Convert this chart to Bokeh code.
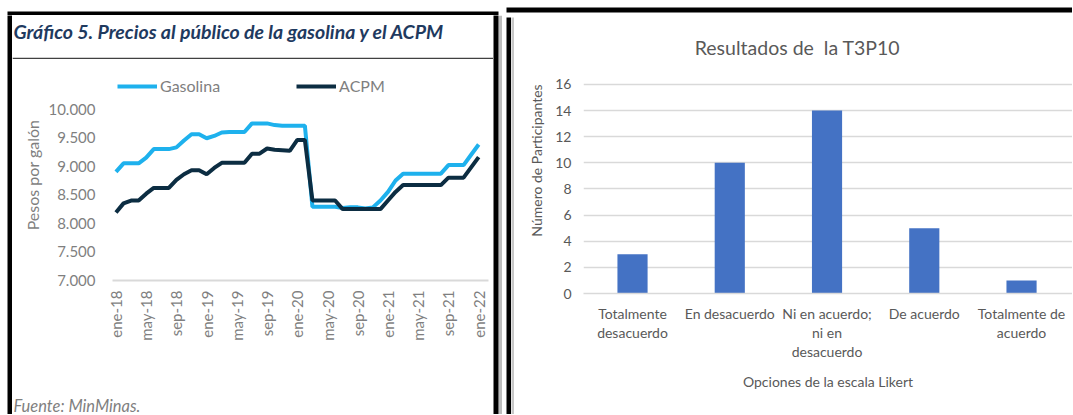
import numpy as np
from bokeh.plotting import figure
from bokeh.layouts import row, column
from bokeh.models import (ColumnDataSource, Range1d, FixedTicker, Legend, LegendItem, Label)
from bokeh.embed import file_html
from bokeh.resources import INLINE

# ---------------- Left chart data (monthly, ene-18 .. ene-22) ----------------
month_index = list(range(49))
gasolina = [8900, 9050, 9050, 9050, 9150, 9300, 9300, 9300, 9330, 9450,
            9560, 9560, 9490, 9530, 9590, 9600, 9600, 9600, 9750, 9750,
            9750, 9720, 9710, 9710, 9710, 9710, 8290, 8290, 8290, 8290,
            8270, 8280, 8280, 8260, 8280, 8400, 8550, 8750, 8870, 8870,
            8870, 8870, 8870, 8870, 9020, 9020, 9020, 9200, 9380]
acpm = [8190, 8350, 8400, 8400, 8520, 8620, 8620, 8620, 8760, 8860,
        8930, 8930, 8860, 8970, 9060, 9060, 9060, 9060, 9220, 9220,
        9310, 9290, 9280, 9270, 9460, 9460, 8400, 8400, 8400, 8400,
        8250, 8250, 8250, 8250, 8250, 8250, 8400, 8550, 8670, 8670,
        8670, 8670, 8670, 8670, 8800, 8800, 8800, 8980, 9160]
x_ticks = [0, 4, 8, 12, 16, 20, 24, 28, 32, 36, 40, 44, 48]
x_tick_labels = ["ene-18", "may-18", "sep-18", "ene-19", "may-19", "sep-19", "ene-20",
                 "may-20", "sep-20", "ene-21", "may-21", "sep-21", "ene-22"]
y_ticks = [7000, 7500, 8000, 8500, 9000, 9500, 10000]
y_tick_labels = ["7.000", "7.500", "8.000", "8.500", "9.000", "9.500", "10.000"]
titulo_izq = "Gráfico 5. Precios al público de la gasolina y el ACPM"
fuente = "Fuente: MinMinas."

# ---------------- Right chart data ----------------
categorias = ["Totalmente\ndesacuerdo", "En desacuerdo", "Ni en acuerdo;\nni en\ndesacuerdo",
              "De acuerdo", "Totalmente de\nacuerdo"]
participantes = [3, 10, 14, 5, 1]
y2_ticks = [0, 2, 4, 6, 8, 10, 12, 14, 16]
titulo_der = "Resultados de \u00a0la T3P10"

FONT = "Lato"


def base_fig(w, h, **kw):
    return figure(width=w, height=h, output_backend="svg", toolbar_location=None,
                  frame_align=False, **kw)


def block(w, h, fill, edge="white", top=0, bottom=0, left=0, right=0):
    b = base_fig(w, h, x_axis_location=None, y_axis_location=None,
                 min_border_top=top, min_border_bottom=bottom,
                 min_border_left=left, min_border_right=right)
    b.background_fill_color = fill
    b.border_fill_color = edge
    b.outline_line_color = None
    b.grid.visible = False
    return b


# ================= Left panel =================
# title strip with rule underneath
t1 = block(481, 44, "white", edge="#404040", bottom=2)
t1.add_layout(Label(x=1, y=16, x_units="canvas", y_units="canvas", text=titulo_izq,
                    text_font=FONT, text_font_size="19.5px", text_font_style="bold italic",
                    text_color="#1f3a5f", text_align="left", text_baseline="middle"))

# chart
p1 = base_fig(481, 333, x_range=Range1d(-0.46, 49.3), y_range=Range1d(7000, 10693),
              min_border_left=100, min_border_right=5, min_border_top=10,
              min_border_bottom=112)
p1.outline_line_color = None
p1.grid.visible = False

src1 = ColumnDataSource(dict(x=month_index, gasolina=gasolina, acpm=acpm))
r_g = p1.line("x", "gasolina", source=src1, line_color="#1eb1ed", line_width=4)
r_a = p1.line("x", "acpm", source=src1, line_color="#0c2d42", line_width=4)

legend = Legend(items=[LegendItem(label="Gasolina", renderers=[r_g]),
                       LegendItem(label="ACPM", renderers=[r_a])],
                orientation="horizontal", location=(5, 185),
                glyph_width=40, glyph_height=16, label_standoff=3, spacing=76,
                padding=0, margin=0, border_line_color=None,
                background_fill_alpha=0,
                label_text_font=FONT, label_text_font_size="16px",
                label_text_color="#7f7f7f")
p1.add_layout(legend)

xa = p1.xaxis[0]
xa.ticker = FixedTicker(ticks=x_ticks)
xa.major_label_overrides = dict(zip(x_ticks, x_tick_labels))
xa.major_label_orientation = np.pi / 2
xa.major_label_standoff = 10
xa.major_tick_line_color = None
xa.major_tick_out = 0
xa.major_tick_in = 0
xa.minor_tick_line_color = None
xa.axis_line_color = "#d9d9d9"
xa.axis_line_width = 2
xa.major_label_text_font = FONT
xa.major_label_text_font_size = "15px"
xa.major_label_text_color = "#7f7f7f"

ya = p1.yaxis[0]
ya.ticker = FixedTicker(ticks=y_ticks)
ya.major_label_overrides = dict(zip(y_ticks, y_tick_labels))
ya.major_label_standoff = 17
ya.major_tick_line_color = None
ya.major_tick_out = 0
ya.major_tick_in = 0
ya.minor_tick_line_color = None
ya.axis_line_color = None
ya.major_label_text_font = FONT
ya.major_label_text_font_size = "15px"
ya.major_label_text_color = "#7f7f7f"
ya.axis_label = "Pesos por galón"
ya.axis_label_text_font = FONT
ya.axis_label_text_font_size = "16px"
ya.axis_label_text_font_style = "normal"
ya.axis_label_text_color = "#7f7f7f"
ya.axis_label_standoff = 3

# footnote strip
f1 = block(481, 22, "white")
f1.add_layout(Label(x=1, y=13, x_units="canvas", y_units="canvas", text=fuente,
                    text_font=FONT, text_font_size="16.5px", text_font_style="italic",
                    text_color="#7f7f7f", text_align="left", text_baseline="middle"))

left_panel = column(
    block(502, 15, "black", top=11, left=7, right=4),
    row(block(12, 399, "black", left=7),
        column(t1, p1, f1, spacing=0),
        block(9, 399, "black", edge="#bdbdbd", right=4),
        spacing=0),
    spacing=0)

# ================= Right panel =================
pos = list(range(len(categorias)))
p2 = base_fig(558, 397, x_range=Range1d(-0.504, 4.524), y_range=Range1d(0, 20.36),
              min_border_left=69, min_border_right=0, min_border_top=10,
              min_border_bottom=121)
p2.outline_line_color = None
p2.xgrid.visible = False
p2.ygrid.ticker = FixedTicker(ticks=y2_ticks)
p2.ygrid.grid_line_color = "#d9d9d9"
p2.ygrid.grid_line_width = 1.3

src2 = ColumnDataSource(dict(x=pos, y=participantes, cat=categorias))
p2.vbar(x="x", top="y", source=src2, width=0.31, fill_color="#4472c4", line_color=None)

xb = p2.xaxis[0]
xb.ticker = FixedTicker(ticks=pos)
xb.major_label_overrides = dict(zip(pos, categorias))
xb.major_label_standoff = 11
xb.major_tick_line_color = None
xb.major_tick_out = 0
xb.major_tick_in = 0
xb.minor_tick_line_color = None
xb.axis_line_color = "#d9d9d9"
xb.axis_line_width = 1.3
xb.major_label_text_font = FONT
xb.major_label_text_font_size = "14px"
xb.major_label_text_color = "#595959"
xb.major_label_text_line_height = 1.12
xb.axis_label = "Opciones de la escala Likert"
xb.axis_label_text_font = FONT
xb.axis_label_text_font_size = "14px"
xb.axis_label_text_font_style = "normal"
xb.axis_label_text_color = "#595959"
xb.axis_label_standoff = 10

yb = p2.yaxis[0]
yb.ticker = FixedTicker(ticks=y2_ticks)
yb.major_label_standoff = 12
yb.major_tick_line_color = None
yb.major_tick_out = 0
yb.major_tick_in = 0
yb.minor_tick_line_color = None
yb.axis_line_color = None
yb.major_label_text_font = FONT
yb.major_label_text_font_size = "14px"
yb.major_label_text_color = "#595959"
yb.axis_label = "Número de Participantes"
yb.axis_label_text_font = FONT
yb.axis_label_text_font_size = "14px"
yb.axis_label_text_font_style = "normal"
yb.axis_label_text_color = "#595959"
yb.axis_label_standoff = 7

p2.add_layout(Label(x=283, y=30, x_units="canvas", y_units="canvas", text=titulo_der,
                    text_font=FONT, text_font_size="19.5px",
                    text_color="#595959", text_align="center", text_baseline="middle"))

right_panel = column(
    block(570, 17, "black", top=7, bottom=5, left=4),
    row(block(9, 397, "black", left=4),
        block(3, 397, "#c8c8c8"),
        p2,
        spacing=0),
    spacing=0)

layout = row(left_panel, right_panel, spacing=0)
open("out.html", "w").write(file_html(layout, INLINE))
